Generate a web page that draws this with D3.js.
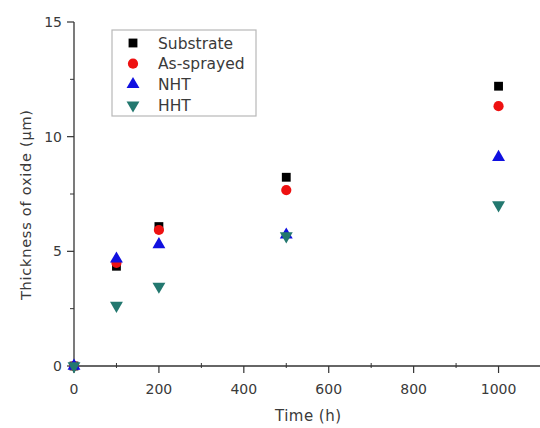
<!DOCTYPE html>
<html><head><meta charset="utf-8">
<script src="https://cdn.jsdelivr.net/npm/d3@7"></script>
<style>
html,body{margin:0;padding:0;background:#fff;}
svg{display:block;font-family:"DejaVu Sans",sans-serif;}
</style></head>
<body>
<svg id="chart" width="540" height="428"></svg>
<script>
// ---- data ----
const times = [0, 100, 200, 500, 1000];
const substrate = [0, 4.35, 6.08, 8.23, 12.2];
const asSprayed = [0, 4.5, 5.93, 7.67, 11.33];
const nht = [0, 4.67, 5.3, 5.72, 9.1];
const hht = [0, 2.64, 3.47, 5.67, 7.02];
const seriesNames = ["Substrate", "As-sprayed", "NHT", "HHT"];
const xTicks = [0, 200, 400, 600, 800, 1000];
const yTicks = [0, 5, 10, 15];
const xLabel = "Time (h)";
const yLabel = "Thickness of oxide (\u03bcm)";

const seriesValues = [substrate, asSprayed, nht, hht];
const colors = ["#000000", "#ee1111", "#1010e0", "#23786f"];
const symbols = [d3.symbolSquare, d3.symbolCircle, d3.symbolTriangle, d3.symbolTriangle];
const symSizes = [78, 82, 72, 72];
const rotations = [0, 0, 0, 180];

const svg = d3.select("#chart");
const x = d3.scaleLinear().domain([0, 1100]).range([74, 541]);
const y = d3.scaleLinear().domain([0, 15]).range([366, 22]);
const axisColor = "#333";
const textColor = "#3a3a3a";

// x axis
const gx = svg.append("g").attr("transform", `translate(0,${y(0)})`);
gx.append("line").attr("x1", x(0)).attr("x2", 540).attr("stroke", axisColor).attr("stroke-width", 1.3);
gx.selectAll(".minor").data(d3.range(100, 1100, 200)).join("line")
  .attr("x1", d => x(d)).attr("x2", d => x(d)).attr("y1", -3).attr("y2", 2)
  .attr("stroke", axisColor).attr("stroke-width", 1);
gx.selectAll(".major").data(xTicks).join("line")
  .attr("x1", d => x(d)).attr("x2", d => x(d)).attr("y1", 0).attr("y2", 7)
  .attr("stroke", axisColor).attr("stroke-width", 1.2);
gx.selectAll("text").data(xTicks).join("text")
  .attr("x", d => x(d)).attr("y", 28).attr("text-anchor", "middle")
  .attr("font-size", 14).attr("fill", textColor).text(d => d);

// y axis
const gy = svg.append("g").attr("transform", `translate(${x(0)},0)`);
gy.append("line").attr("y1", y(15)).attr("y2", y(0)).attr("stroke", axisColor).attr("stroke-width", 1.3);
gy.selectAll(".minor").data([2.5, 7.5, 12.5]).join("line")
  .attr("y1", d => y(d)).attr("y2", d => y(d)).attr("x1", -4).attr("x2", 0)
  .attr("stroke", axisColor).attr("stroke-width", 1);
gy.selectAll(".major").data(yTicks).join("line")
  .attr("y1", d => y(d)).attr("y2", d => y(d)).attr("x1", -7).attr("x2", 0)
  .attr("stroke", axisColor).attr("stroke-width", 1.2);
gy.selectAll("text").data(yTicks).join("text")
  .attr("x", -12).attr("y", d => y(d) + 5).attr("text-anchor", "end")
  .attr("font-size", 14).attr("fill", textColor).text(d => d);

// axis titles
svg.append("text").attr("x", 308).attr("y", 421).attr("text-anchor", "middle")
  .attr("font-size", 15).attr("textLength", 66).attr("lengthAdjust", "spacing")
  .attr("fill", textColor).text(xLabel);
svg.append("text").attr("transform", "translate(31,205) rotate(-90)").attr("text-anchor", "middle")
  .attr("font-size", 14.5).attr("textLength", 190).attr("lengthAdjust", "spacing")
  .attr("fill", textColor).text(yLabel);

// points
seriesValues.forEach((vals, i) => {
  svg.append("g").selectAll("path").data(vals.map((v, j) => [times[j], v])).join("path")
    .attr("d", d3.symbol().type(symbols[i]).size(symSizes[i]))
    .attr("transform", d => `translate(${x(d[0])},${y(d[1])}) rotate(${rotations[i]})`)
    .attr("fill", colors[i]);
});

// legend
const lg = svg.append("g");
lg.append("rect").attr("x", 112).attr("y", 30).attr("width", 144).attr("height", 86)
  .attr("fill", "#fff").attr("stroke", "#b8b8b8").attr("stroke-width", 1.2);
seriesNames.forEach((name, i) => {
  const yy = 43 + i * 20.7;
  lg.append("path").attr("d", d3.symbol().type(symbols[i]).size(symSizes[i]))
    .attr("transform", `translate(133,${yy}) rotate(${rotations[i]})`).attr("fill", colors[i]);
  lg.append("text").attr("x", 158).attr("y", yy + 5.5).attr("font-size", 15.5)
    .attr("fill", textColor).text(name);
});
</script>
</body></html>
